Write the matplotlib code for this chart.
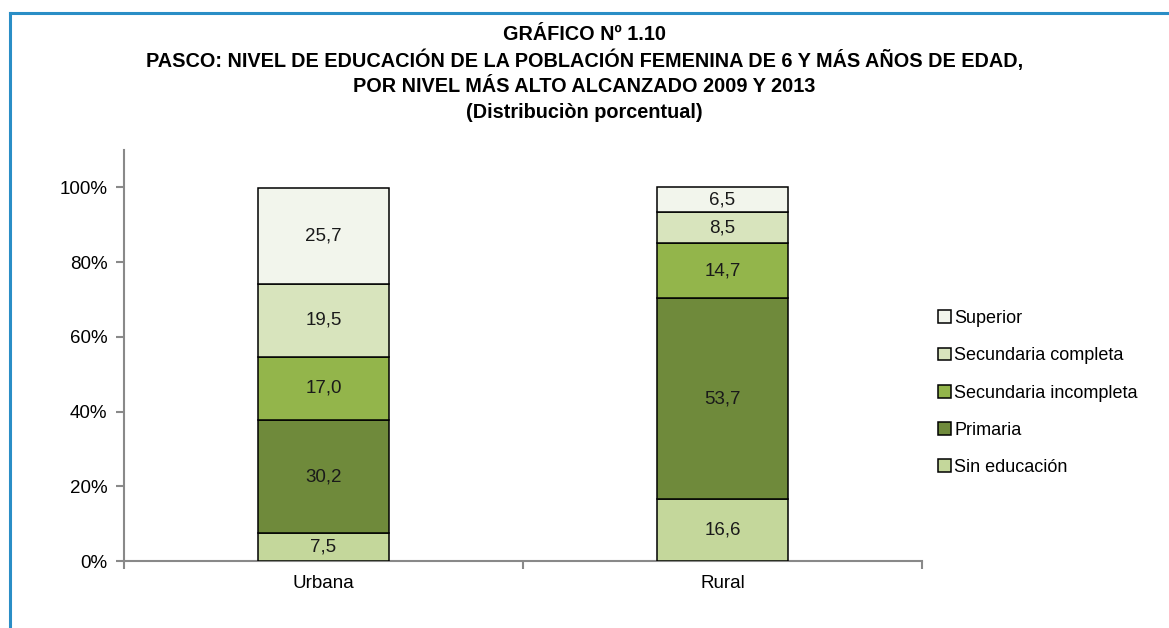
import matplotlib as mpl
import matplotlib.pyplot as plt
from matplotlib.lines import Line2D
import numpy as np

mpl.rcParams["font.family"] = ["Liberation Sans", "DejaVu Sans"]

# --- data (percent) ---
categories = ["Urbana", "Rural"]
levels = ["Sin educación", "Primaria", "Secundaria incompleta",
          "Secundaria completa", "Superior"]
sin_educacion = [7.5, 16.6]
primaria = [30.2, 53.7]
sec_incompleta = [17.0, 14.7]
sec_completa = [19.5, 8.5]
superior = [25.7, 6.5]
series = [sin_educacion, primaria, sec_incompleta, sec_completa, superior]
colors = ["#c4d79b", "#6f8a3b", "#93b54b", "#d8e4bd", "#f2f5ec"]

title_lines = ["GRÁFICO Nº 1.10",
               "PASCO: NIVEL DE EDUCACIÓN DE LA POBLACIÓN FEMENINA DE 6 Y MÁS AÑOS DE EDAD,",
               "POR NIVEL MÁS ALTO ALCANZADO 2009 Y 2013",
               "(Distribuciòn porcentual)"]

fig = plt.figure(figsize=(11.69, 6.28), dpi=100)
ax = fig.add_axes([124 / 1169, 1 - 561 / 628, (922 - 124) / 1169, (561 - 150) / 628])

x = np.arange(len(categories))
bottom = np.zeros(len(categories))
handles = []
for vals, col, lab in zip(series, colors, levels):
    v = np.array(vals)
    bars = ax.bar(x, v, 0.33, bottom=bottom, color=col, edgecolor="black",
                  linewidth=1.1, label=lab, zorder=3)
    handles.append(bars)
    for xi, b, h in zip(x, bottom, v):
        ax.text(xi, b + h / 2, f"{h:.1f}".replace(".", ","), ha="center",
                va="center", fontsize=13.5, color="#1a1a1a", zorder=4)
    bottom += v

ax.set_xlim(-0.5, 1.5)
ax.set_ylim(0, 110)
ax.set_yticks(np.arange(0, 101, 20))
ax.set_yticklabels([f"{t}%" for t in range(0, 101, 20)], fontsize=13.5)
ax.set_xticks(x)
ax.set_xticklabels(categories, fontsize=13.5)
ax.tick_params(axis="x", which="major", length=0, pad=10)
ax.set_xticks([-0.5, 0.5, 1.5], minor=True)
ax.tick_params(axis="x", which="minor", length=6, color="#898989", width=1.5)
ax.tick_params(axis="y", length=6, color="#898989", width=1.5, pad=6)
for s in ["top", "right"]:
    ax.spines[s].set_visible(False)
for s in ["left", "bottom"]:
    ax.spines[s].set_color("#898989")
    ax.spines[s].set_linewidth(1.5)

leg = fig.legend(handles[::-1], levels[::-1], loc="center left",
                 bbox_to_anchor=(922 / 1169, 1 - 393 / 628), frameon=False,
                 fontsize=13, handlelength=0.7, handleheight=0.7,
                 handletextpad=0.2, labelspacing=1.12)

title_y = [34, 60, 86, 113]
for line, yy in zip(title_lines, title_y):
    fig.text(0.5, 1 - yy / 628, line, ha="center", va="center",
             fontsize=14.3, fontweight="bold")

# blue frame (left and top edges visible)
fig.add_artist(Line2D([9.5 / 1169, 9.5 / 1169], [0, 1 - 13 / 628],
                      color="#2a8ec6", lw=2.2))
fig.add_artist(Line2D([9.5 / 1169, 1], [1 - 13 / 628, 1 - 13 / 628],
                      color="#2a8ec6", lw=2.2))

fig.savefig("out.png", dpi=100, facecolor="white")
